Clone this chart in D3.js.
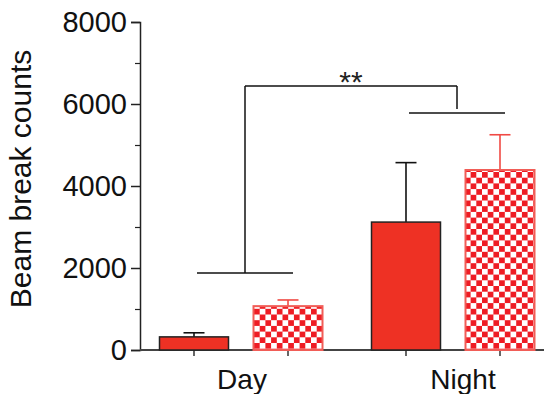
<!DOCTYPE html>
<html>
<head>
<meta charset="utf-8">
<script src="https://d3js.org/d3.v7.min.js"></script>
<style>
  body { margin: 0; background: #fff; }
  svg { font-family: Arial, "Liberation Sans", Helvetica, sans-serif; }
</style>
</head>
<body>
<div id="chart"></div>
<script>
// data
const groups = ["Day", "Night"];
const kinds = ["solid", "checked"];
const means = [[320, 1070], [3120, 4390]];
const errors = [[100, 150], [1450, 860]];
const yTicks = [0, 2000, 4000, 6000, 8000];
const yMinor = [1000, 3000, 5000, 7000];
const pairBracket = [1880, 5780];   // horizontal lines above each group
const topBracket = 6440;            // bracket linking the two groups
const sigLabel = "**";

const width = 544, height = 394;
const red = "#ee3124";

const svg = d3.select("#chart").append("svg")
    .attr("width", width)
    .attr("height", height);

// checker pattern for the second bar of each group
const defs = svg.append("defs");
const pat = defs.append("pattern")
    .attr("id", "checker")
    .attr("patternUnits", "userSpaceOnUse")
    .attr("width", 11.4)
    .attr("height", 11.4)
    .attr("x", 254)
    .attr("y", 1);
pat.append("rect").attr("width", 11.4).attr("height", 11.4).attr("fill", "#fff");
pat.append("rect").attr("width", 5.7).attr("height", 5.7).attr("fill", "#ee1c24");
pat.append("rect").attr("x", 5.7).attr("y", 5.7).attr("width", 5.7).attr("height", 5.7).attr("fill", "#ee1c24");

// scales
const y = d3.scaleLinear().domain([0, 8000]).range([350, 22]);
const x0 = d3.scaleBand().domain(groups).range([135, 559]);
const x1 = d3.scaleBand().domain(kinds).range([24.5, 187.5]).paddingInner(0.266);

const rows = [];
groups.forEach((g, gi) => kinds.forEach((k, ki) => {
    rows.push({ group: g, kind: k, mean: means[gi][ki], err: errors[gi][ki] });
}));
const cx = d => x0(d.group) + x1(d.kind) + x1.bandwidth() / 2;

// y axis
const yAxis = svg.append("g")
    .attr("transform", "translate(140,0)")
    .call(d3.axisLeft(y).tickValues(yTicks).tickSize(9).tickPadding(4).tickFormat(d3.format("d")));
yAxis.select(".domain").attr("stroke", "#222").attr("stroke-width", 1.5);
yAxis.selectAll(".tick line").attr("stroke", "#222").attr("stroke-width", 1.5);
yAxis.selectAll(".tick text").attr("font-size", 29).attr("fill", "#111")
    .attr("font-family", "Arial, 'Liberation Sans', sans-serif");

const yMinorAxis = svg.append("g")
    .attr("transform", "translate(140,0)")
    .call(d3.axisLeft(y).tickValues(yMinor).tickSize(5).tickFormat(""));
yMinorAxis.select(".domain").remove();
yMinorAxis.selectAll(".tick line").attr("stroke", "#222").attr("stroke-width", 1.2);

// x axis line and ticks under each bar
svg.append("line")
    .attr("x1", 140).attr("x2", width)
    .attr("y1", y(0)).attr("y2", y(0))
    .attr("stroke", "#444").attr("stroke-width", 2);
svg.selectAll(".xtick")
    .data(rows)
    .enter().append("line")
    .attr("class", "xtick")
    .attr("x1", cx).attr("x2", cx)
    .attr("y1", y(0)).attr("y2", y(0) + 6)
    .attr("stroke", "#333").attr("stroke-width", 1.5);

// group labels
svg.selectAll(".glabel")
    .data(groups)
    .enter().append("text")
    .attr("class", "glabel")
    .attr("x", d => x0(d) + x0.bandwidth() / 2)
    .attr("dx", (d, i) => i === 0 ? 1 : 10)
    .attr("y", 389)
    .attr("text-anchor", "middle")
    .attr("font-size", 28)
    .attr("fill", "#111")
    .text(d => d);

// y label
svg.append("text")
    .attr("transform", "translate(31,179) rotate(-90)")
    .attr("text-anchor", "middle")
    .attr("font-size", 30)
    .attr("fill", "#111")
    .text("Beam break counts");

// error bars (drawn first so bars cover their lower part)
const eb = svg.selectAll(".err")
    .data(rows)
    .enter().append("g")
    .attr("class", "err")
    .attr("stroke", d => d.kind === "solid" ? "#111" : "#f04a44")
    .attr("stroke-width", 1.6);
eb.append("line")
    .attr("x1", cx).attr("x2", cx)
    .attr("y1", d => y(d.mean)).attr("y2", d => y(d.mean + d.err));
eb.append("line")
    .attr("x1", d => cx(d) - 10.5).attr("x2", d => cx(d) + 10.5)
    .attr("y1", d => y(d.mean + d.err)).attr("y2", d => y(d.mean + d.err));

// bars
svg.selectAll(".bar")
    .data(rows)
    .enter().append("rect")
    .attr("class", "bar")
    .attr("x", d => x0(d.group) + x1(d.kind))
    .attr("width", x1.bandwidth())
    .attr("y", d => y(d.mean))
    .attr("height", d => y(0) - y(d.mean))
    .attr("fill", d => d.kind === "solid" ? red : "url(#checker)")
    .attr("stroke", d => d.kind === "solid" ? "#222" : "#f15d57")
    .attr("stroke-width", d => d.kind === "solid" ? 1.5 : 2);

// significance brackets
const br = svg.append("g").attr("stroke", "#111").attr("stroke-width", 1.5).attr("fill", "none");
const mid = g => x0(g) + x0.bandwidth() / 2 + 4;
groups.forEach((g, i) => {
    br.append("line")
        .attr("x1", mid(g) - 48).attr("x2", mid(g) + 48)
        .attr("y1", y(pairBracket[i])).attr("y2", y(pairBracket[i]));
    br.append("line")
        .attr("x1", mid(g)).attr("x2", mid(g))
        .attr("y1", y(topBracket)).attr("y2", y(pairBracket[i]) - (i === 1 ? 4 : 0));
});
br.append("line")
    .attr("x1", mid(groups[0])).attr("x2", mid(groups[1]))
    .attr("y1", y(topBracket)).attr("y2", y(topBracket));

svg.append("text")
    .attr("x", (mid(groups[0]) + mid(groups[1])) / 2)
    .attr("y", y(topBracket) + 6)
    .attr("text-anchor", "middle")
    .attr("font-size", 30)
    .attr("fill", "#222")
    .text(sigLabel);
</script>
</body>
</html>
